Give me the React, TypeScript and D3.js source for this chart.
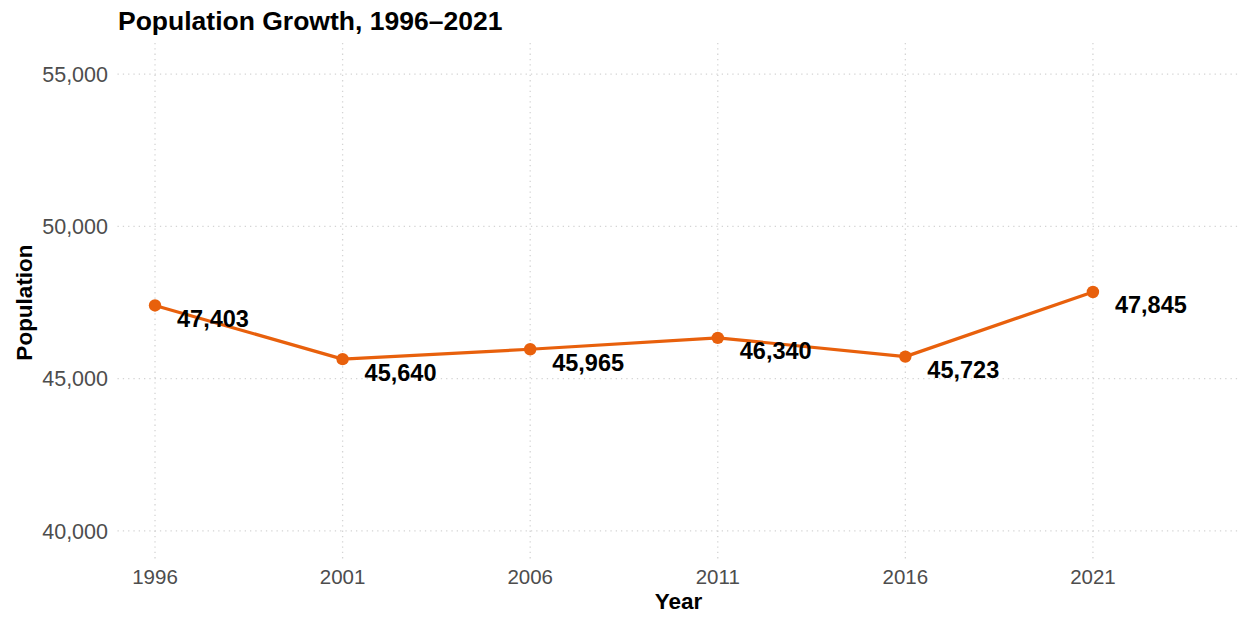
import React from "react";
import * as d3 from "d3";

const years = [1996, 2001, 2006, 2011, 2016, 2021];
const population = [47403, 45640, 45965, 46340, 45723, 47845];
const yTicks = [40000, 45000, 50000, 55000];
const title = "Population Growth, 1996–2021";
const xTitle = "Year";
const yTitle = "Population";

const W = 1243;
const H = 617;
const panel = { left: 117.5, right: 1243, top: 43, bottom: 562 };
const FONT = "'Liberation Sans', Arial, Helvetica, sans-serif";
const ORANGE = "#E8600C";

export default function App() {
  const x = d3.scaleLinear().domain([1995, 2025]).range([panel.left, panel.right]);
  const y = d3.scaleLinear().domain([38980, 56020]).range([panel.bottom, panel.top]);
  const fmt = d3.format(",");
  const data = years.map((yr, i) => ({ yr, v: population[i] }));
  const line = d3
    .line<{ yr: number; v: number }>()
    .x((d) => x(d.yr))
    .y((d) => y(d.v));

  return (
    <svg
      width={W}
      height={H}
      style={{ position: "absolute", left: 0, top: 0, background: "#fff" }}
      fontFamily={FONT}
    >
      {yTicks.map((t) => (
        <line
          key={"gy" + t}
          x1={panel.left}
          x2={1240}
          y1={y(t)}
          y2={y(t)}
          stroke="#d4d4d4"
          strokeWidth={1.3}
          strokeDasharray="1.3,4"
        />
      ))}
      {years.map((t) => (
        <line
          key={"gx" + t}
          x1={x(t)}
          x2={x(t)}
          y1={panel.top}
          y2={panel.bottom}
          stroke="#d4d4d4"
          strokeWidth={1.3}
          strokeDasharray="1.3,4"
        />
      ))}
      {yTicks.map((t) => (
        <text
          key={"ty" + t}
          x={108}
          y={y(t)}
          dy="0.36em"
          textAnchor="end"
          fontSize={21.5}
          fill="#4d4d4d"
        >
          {fmt(t)}
        </text>
      ))}
      {years.map((t) => (
        <text
          key={"tx" + t}
          x={x(t)}
          y={577}
          dy="0.36em"
          textAnchor="middle"
          fontSize={20.5}
          fill="#4d4d4d"
        >
          {t}
        </text>
      ))}
      <path d={line(data) || ""} fill="none" stroke={ORANGE} strokeWidth={3.2} strokeLinejoin="round" />
      {data.map((d) => (
        <circle key={"p" + d.yr} cx={x(d.yr)} cy={y(d.v)} r={6.2} fill={ORANGE} />
      ))}
      {data.map((d) => (
        <text
          key={"l" + d.yr}
          x={x(d.yr) + 22}
          y={y(d.v) + 13}
          dy="0.36em"
          fontSize={23.5}
          fontWeight="bold"
          fill="#000"
        >
          {fmt(d.v)}
        </text>
      ))}
      <text x={118} y={20} dy="0.36em" fontSize={26.5} fontWeight="bold" fill="#000">
        {title}
      </text>
      <text
        x={(117 + 1240) / 2}
        y={601}
        dy="0.36em"
        textAnchor="middle"
        fontSize={22.5}
        fontWeight="bold"
        fill="#000"
      >
        {xTitle}
      </text>
      <text
        transform={`translate(${24},${(panel.top + panel.bottom) / 2}) rotate(-90)`}
        dy="0.36em"
        textAnchor="middle"
        fontSize={22.5}
        fontWeight="bold"
        fill="#000"
      >
        {yTitle}
      </text>
    </svg>
  );
}
